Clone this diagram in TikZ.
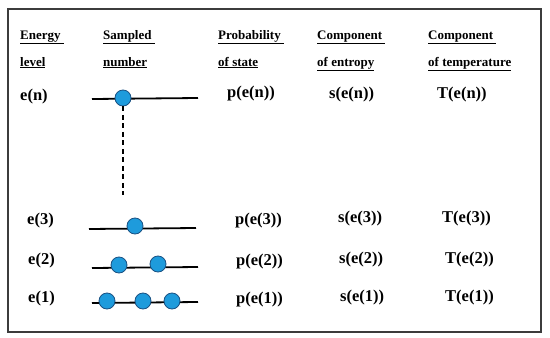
\documentclass[tikz,border=0pt]{standalone}
\usepackage{fontspec}
\setmainfont{Liberation Serif}
\usepackage{tikz}
\usetikzlibrary{positioning}
\definecolor{dotblue}{RGB}{30,155,220}
\definecolor{dotedge}{RGB}{25,80,130}
\definecolor{framegray}{RGB}{60,60,60}
\tikzset{
    % column heads
    headtxt/.style={anchor=base west, inner sep=0pt, font=\fontsize{13}{15}\selectfont\bfseries},
    % level names and values
    valtxt/.style={anchor=base west, inner sep=0pt, font=\fontsize{16.5}{19}\selectfont\bfseries},
    % sampled particles
    pdot/.style={circle, draw=dotedge, fill=dotblue, minimum size=16pt, inner sep=0pt, line width=0.8pt},
    lvline/.style={line width=1.8pt, black},
    gapline/.style={line width=1.4pt, black, dash pattern=on 5pt off 3.5pt},
}

\begin{document}
\begin{tikzpicture}[x=1pt, y=-1pt]
\useasboundingbox (0,0) rectangle (550,338);
\draw[line width=1.5pt, framegray] (8,9) rectangle (541,332);

% headings
\node[headtxt] (h1a) at (20,39)  {\underline{Energy~}};
\node[headtxt] (h1b) at (20,66)  {\underline{level}};
\node[headtxt] (h2a) at (103,39) {\underline{Sampled~}};
\node[headtxt] (h2b) at (103,66) {\underline{number}};
\node[headtxt] (h3a) at (218,39) {\underline{Probability~}};
\node[headtxt] (h3b) at (218,66) {\underline{of state}};
\node[headtxt] (h4a) at (317,39) {\underline{Component~}};
\node[headtxt] (h4b) at (317,66) {\underline{of entropy}};
\node[headtxt] (h5a) at (428,39) {\underline{Component~}};
\node[headtxt] (h5b) at (428,66) {\underline{of temperature}};

% level n
\node[valtxt] (en) at (20,100)  {e(n)};
\node[valtxt] (pn) at (227,97)  {p(e(n))};
\node[valtxt] (sn) at (329,98)  {s(e(n))};
\node[valtxt] (tn) at (437,98)  {T(e(n))};
\coordinate (lnl) at (92,99);
\coordinate (lnr) at (198,98);
\draw[lvline] (lnl) -- (lnr);
\node[pdot] (dn) at (123,98) {};
\coordinate (gapend) at (123,195);
\draw[gapline] (dn.south) -- (gapend);

% level 3
\node[valtxt] (e3) at (27,224)  {e(3)};
\node[valtxt] (p3) at (235,224) {p(e(3))};
\node[valtxt] (s3) at (338,222) {s(e(3))};
\node[valtxt] (t3) at (442,222) {T(e(3))};
\coordinate (l3l) at (89,229);
\coordinate (l3r) at (196,228);
\draw[lvline] (l3l) -- (l3r);
\node[pdot] (d31) at (135,226) {};

% level 2
\node[valtxt] (e2) at (28,264)  {e(2)};
\node[valtxt] (p2) at (236,265) {p(e(2))};
\node[valtxt] (s2) at (339,263) {s(e(2))};
\node[valtxt] (t2) at (445,263) {T(e(2))};
\coordinate (l2l) at (92,268);
\coordinate (l2r) at (198,267);
\draw[lvline] (l2l) -- (l2r);
\node[pdot] (d21) at (119,265) {};
\node[pdot] (d22) at (158,264) {};

% level 1
\node[valtxt] (e1) at (28,302)  {e(1)};
\node[valtxt] (p1) at (236,303) {p(e(1))};
\node[valtxt] (s1) at (340,301) {s(e(1))};
\node[valtxt] (t1) at (445,301) {T(e(1))};
\coordinate (l1l) at (92,303);
\coordinate (l1r) at (198,302);
\draw[lvline] (l1l) -- (l1r);
\node[pdot] (d11) at (107,301) {};
\node[pdot] (d12) at (143,301) {};
\node[pdot] (d13) at (172,301) {};
\end{tikzpicture}
\end{document}
